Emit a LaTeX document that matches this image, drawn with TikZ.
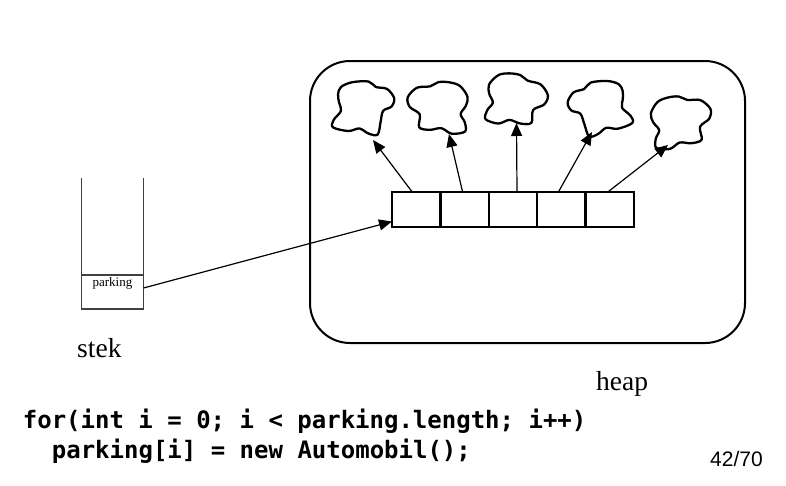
\documentclass[tikz,border=0pt]{standalone}
\usepackage{fontspec}
\setmainfont{Liberation Serif}
\setmonofont{DejaVu Sans Mono}
\newfontfamily\pagefont{Liberation Sans}
\usetikzlibrary{arrows.meta,calc}
\begin{document}
\begin{tikzpicture}[x=1pt,y=-1pt,
  cell/.style={draw, line width=2.4pt, minimum width=48.4pt, minimum height=35pt, inner sep=0pt, outer sep=0pt},
  ptr/.style={line width=1.2pt, -{Triangle[length=13pt,width=11pt]}},
  blob/.style={line width=2.3pt, line join=round, scale=1.1},
  cloudnode/.style={circle, minimum size=56pt, inner sep=0pt},
  stackline/.style={draw=black!75, line width=1.4pt},
  code/.style={anchor=base west, inner sep=0pt, font=\fontsize{24}{28}\selectfont\ttfamily\bfseries},
  big/.style={anchor=base west, inner sep=0pt, font=\fontsize{27.5}{30}\selectfont}]
\useasboundingbox (0,0) rectangle (786,485);

% heap
\node[draw, line width=2pt, rounded corners=40pt, minimum width=435pt, minimum height=282pt, inner sep=0pt] (heap) at (527.5,202) {};

% array
\node[cell] (a1) at (416.2,209.5) {};
\node[cell] (a2) at (464.6,209.5) {};
\node[cell] (a3) at (513.0,209.5) {};
\node[cell] (a4) at (561.4,209.5) {};
\node[cell] (a5) at (609.8,209.5) {};

% clouds
\node[cloudnode] (k1) at (363,109) {};
\node[cloudnode] (k2) at (436,106) {};
\node[cloudnode] (k3) at (518.5,99) {};
\node[cloudnode] (k4) at (600,109) {};
\node[cloudnode] (k5) at (683,120) {};
\draw[shift={(k1)}, blob] plot[smooth cycle, tension=0.55] coordinates {(-20,-20) (-10,-24.3) (5,-25) (11.7,-20) (21.7,-18.3) (28.3,-10) (26,-2.3) (18.3,1.7) (16,11.7) (13.3,23.3) (5,22.3) (-3.3,17.7) (-13.3,20) (-27.3,16.7) (-26.7,10) (-20,1.7) (-21.7,-5.7) (-22.7,-13.3)};
\draw[shift={(k2)}, xscale=-1, rotate=10, blob] plot[smooth cycle, tension=0.55] coordinates {(-26.7,-13.3) (-18.3,-21.7) (-8.3,-23.3) (1.7,-21.7) (8.3,-16.7) (20,-13.3) (26.7,-3.3) (23.3,5) (13.3,10) (11.7,21.7) (1.7,22.3) (-8.3,19) (-18.3,22.3) (-30,18.3) (-28.3,10) (-23.3,3.3) (-26.7,-5)};
\draw[shift={(k3)}, blob] plot[smooth cycle, tension=0.55] coordinates {(-26.7,-13.3) (-18.3,-21.7) (-8.3,-23.3) (1.7,-21.7) (8.3,-16.7) (20,-13.3) (26.7,-3.3) (23.3,5) (13.3,10) (11.7,21.7) (1.7,22.3) (-8.3,19) (-18.3,22.3) (-30,18.3) (-28.3,10) (-23.3,3.3) (-26.7,-5)};
\draw[shift={(k4)}, xscale=-1, rotate=-8, blob] plot[smooth cycle, tension=0.55] coordinates {(-20,-20) (-10,-24.3) (5,-25) (11.7,-20) (21.7,-18.3) (28.3,-10) (26,-2.3) (18.3,1.7) (16,11.7) (13.3,23.3) (5,22.3) (-3.3,17.7) (-13.3,20) (-27.3,16.7) (-26.7,10) (-20,1.7) (-21.7,-5.7) (-22.7,-13.3)};
\draw[shift={(k5)}, rotate=15, blob] plot[smooth cycle, tension=0.55] coordinates {(-26.7,-13.3) (-18.3,-21.7) (-8.3,-23.3) (1.7,-21.7) (8.3,-16.7) (20,-13.3) (26.7,-3.3) (23.3,5) (13.3,10) (11.7,21.7) (1.7,22.3) (-8.3,19) (-18.3,22.3) (-30,18.3) (-28.3,10) (-23.3,3.3) (-26.7,-5)};

\coordinate (t1) at ($(k1)+(10,31)$);
\coordinate (t2) at ($(k2)+(13,28)$);
\coordinate (t3) at ($(k3)+(-2,24)$);
\coordinate (t4) at ($(k4)+(-8,23)$);
\coordinate (t5) at ($(k5)+(-15,25)$);

\draw[ptr] ([xshift=-4pt]a1.north) -- (t1);
\draw[ptr] ([xshift=-2pt]a2.north) -- (t2);
\draw[ptr] ([xshift=4pt]a3.north) -- (t3);
\draw[ptr] ([xshift=-3pt]a4.north) -- (t4);
\draw[ptr] ([xshift=-2pt]a5.north) -- (t5);

% stack
\node[stackline, minimum width=62pt, minimum height=34pt, inner sep=0pt, outer sep=0pt] (pk) at (112.5,292) {};
\node[inner sep=0pt, font=\fontsize{13}{15}\selectfont] (pklabel) at (112.5,283) {parking};
\coordinate (sl) at ($(pk.north west)+(0,-97)$);
\coordinate (sr) at ($(pk.north east)+(0,-97)$);
\draw[stackline] (pk.north west) -- (sl);
\draw[stackline] (pk.north east) -- (sr);

\draw[ptr] ([yshift=4pt]pk.east) -- ([yshift=-12pt]a1.west);

% labels
\node[big] (stek) at (77,357) {stek};
\node[big] (heaplabel) at (596,390) {heap};
\node[code] (line1) at (22.7,428) {for(int i = 0; i < parking.length; i++)};
\node[code] (line2) at (51.7,458) {parking[i] = new Automobil();};
\node[anchor=base west, inner sep=0pt, font=\fontsize{21}{24}\selectfont\pagefont] (page) at (710,466) {42/70};
\end{tikzpicture}
\end{document}
